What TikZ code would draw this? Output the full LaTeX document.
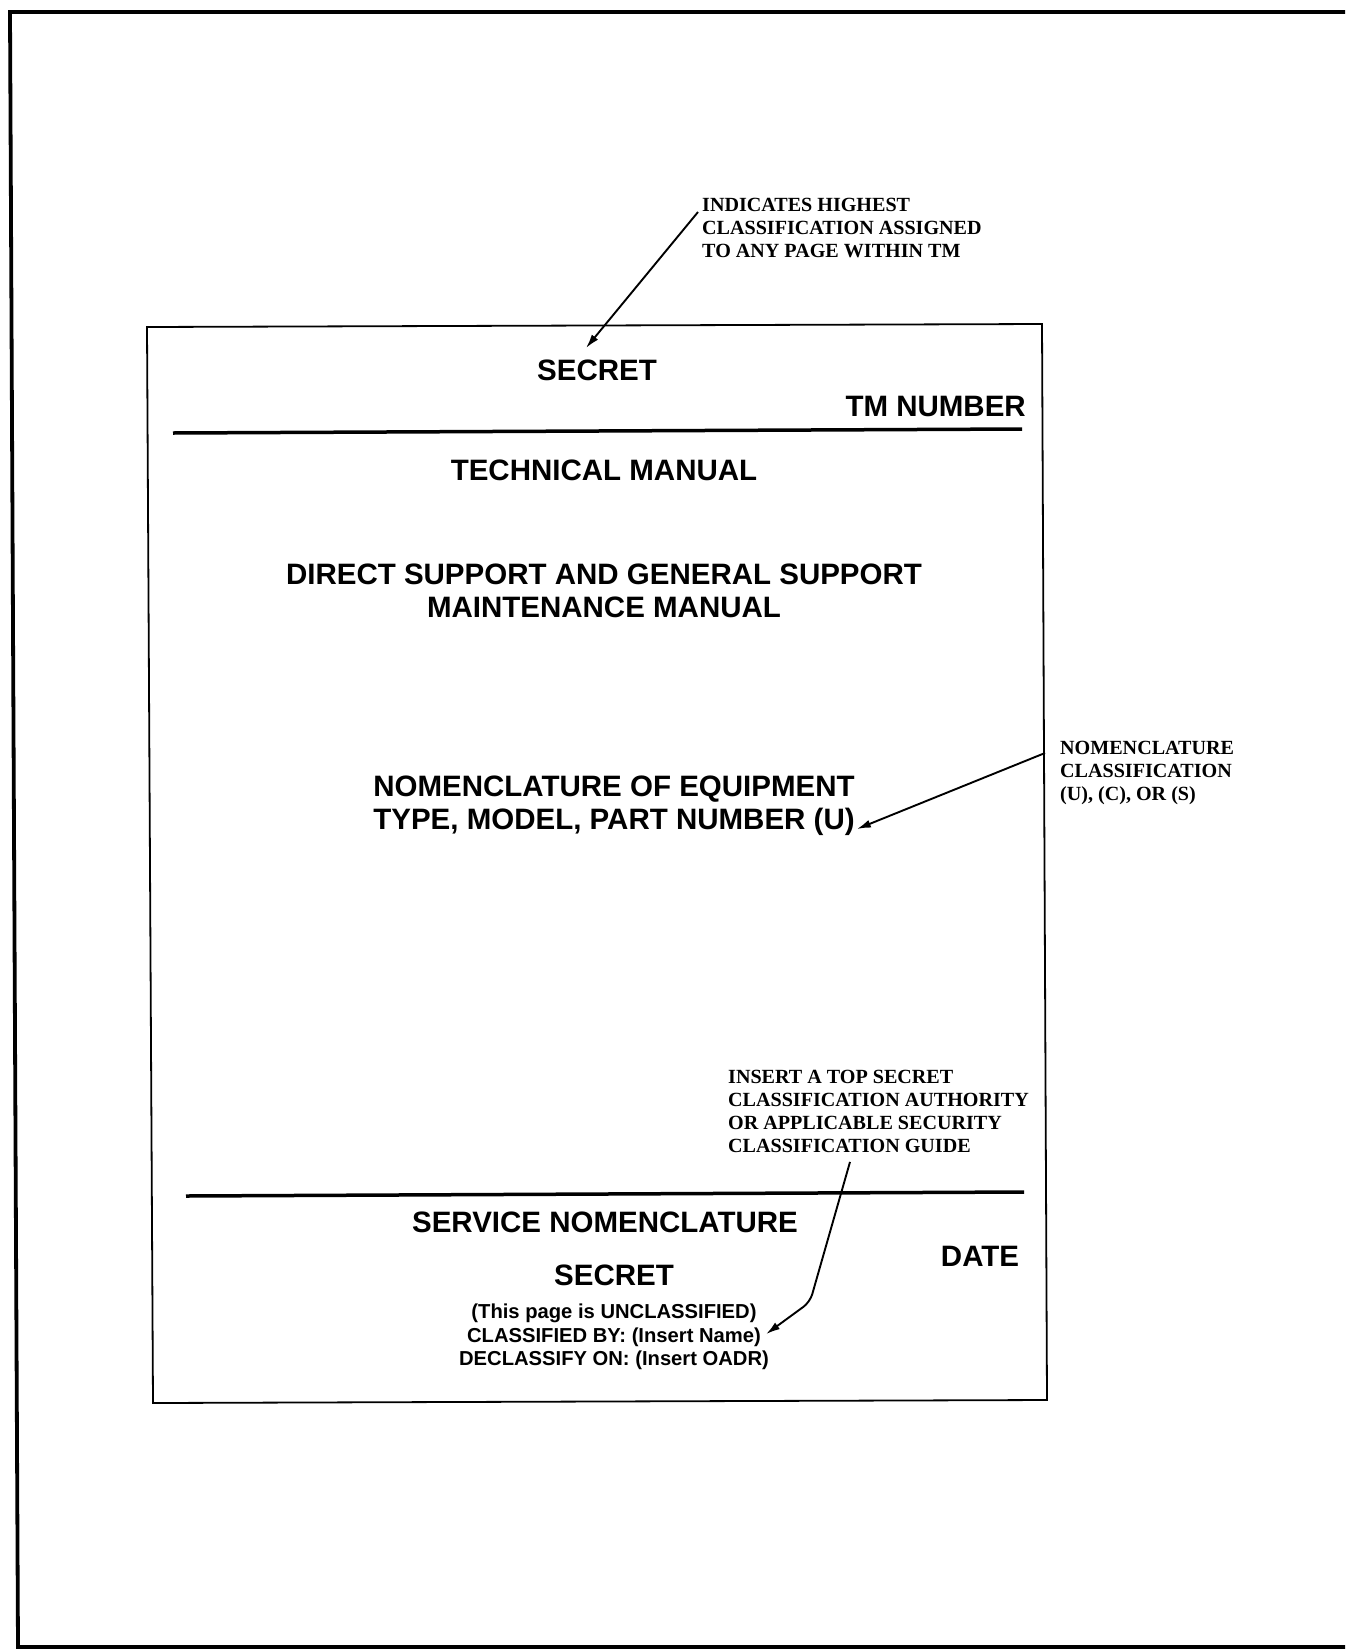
\documentclass[tikz,border=0pt]{standalone}
\usepackage{fontspec}
\setmainfont{Liberation Serif}
\setsansfont{Liberation Sans}
\usetikzlibrary{arrows.meta}
\tikzset{
  covertitle/.style = {
    font=\sffamily\bfseries\fontsize{29.5}{33}\selectfont,
    align=center,
    anchor=north,
    inner sep=0pt
  },
  coverstamp/.style = {
    font=\sffamily\bfseries\fontsize{20.2}{23.5}\selectfont,
    align=center,
    anchor=north,
    inner sep=0pt
  },
  calloutnote/.style = {
    font=\rmfamily\bfseries\fontsize{20.1}{23}\selectfont,
    align=left,
    anchor=north west,
    inner sep=0pt
  },
  callarrow/.style = {
    -{Latex[length=14pt, width=8pt]},
    line width=1.9pt
  },
  frameline/.style = {
    line width=3.8pt
  },
  pageline/.style = {
    line width=1.8pt
  },
  ruleline/.style = {
    line width=3.5pt
  }
}

\begin{document}
\begin{tikzpicture}[x=1pt, y=-1pt]
  \fill[white] (0, 0) rectangle (1345, 1649);
  \useasboundingbox (0, 0) rectangle (1345, 1649);

  % Outer sheet frame
  \draw[frameline] (1345, 12) -- (10, 12) -- (18, 1647) -- (1345, 1647);

  % Cover page outline and rules
  \draw[pageline] (147, 327) -- (1042, 324) -- (1047, 1400) -- (153, 1403) -- cycle;
  \draw[ruleline] (173, 433) -- (1022, 429);
  \draw[ruleline] (186, 1196) -- (1024, 1192);

  % Cover page texts
  \node[covertitle] (secrettop) at (597, 360) {SECRET};
  \node[covertitle, anchor=north east] (tmnumber) at (1026, 396) {TM NUMBER};
  \node[covertitle] (techmanual) at (604, 460) {TECHNICAL MANUAL};
  \node[covertitle] (maintitle) at (604, 564) {
    DIRECT SUPPORT AND GENERAL SUPPORT\\
    MAINTENANCE MANUAL
  };
  \node[covertitle] (equipment) at (614, 776) {
    NOMENCLATURE OF EQUIPMENT\\
    TYPE, MODEL, PART NUMBER (U)
  };
  \node[covertitle] (servicename) at (605, 1212) {SERVICE NOMENCLATURE};
  \node[covertitle] (datefield) at (980, 1246) {DATE};
  \node[covertitle] (secretbottom) at (614, 1265) {SECRET};
  \node[coverstamp] (stamp) at (614, 1304) {
    (This page is UNCLASSIFIED)\\
    CLASSIFIED BY: (Insert Name)\\
    DECLASSIFY ON: (Insert OADR)
  };

  % Callout notes
  \node[calloutnote] (topnote) at (702, 198) {
    INDICATES HIGHEST\\
    CLASSIFICATION ASSIGNED\\
    TO ANY PAGE WITHIN TM
  };
  \node[calloutnote] (nomnote) at (1060, 741) {
    NOMENCLATURE\\
    CLASSIFICATION\\
    (U), (C), OR (S)
  };
  \node[calloutnote] (guidenote) at (728, 1070) {
    INSERT A TOP SECRET\\
    CLASSIFICATION AUTHORITY\\
    OR APPLICABLE SECURITY\\
    CLASSIFICATION GUIDE
  };

  % Callout arrows
  \draw[callarrow] ([xshift=-4pt, yshift=-14pt]topnote.north west) -- ([xshift=-11pt, yshift=12pt]secrettop.north);
  \draw[callarrow] ([xshift=-15pt, yshift=-12pt]nomnote.north west) -- ([xshift=2pt, yshift=-23pt]equipment.east);
  \coordinate (guidebend) at (810, 1302);
  \draw[callarrow, rounded corners=8pt] ([xshift=122pt, yshift=-9pt]guidenote.south west) -- (guidebend) -- ([xshift=-3pt, yshift=3pt]stamp.east);
\end{tikzpicture}
\end{document}
